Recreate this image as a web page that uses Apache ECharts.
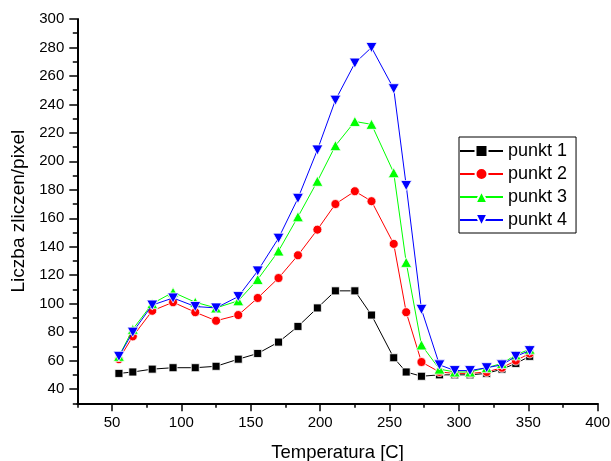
<!DOCTYPE html>
<html>
<head>
<meta charset="utf-8">
<script src="https://cdn.jsdelivr.net/npm/echarts@6/dist/echarts.min.js"></script>
<style>
  html, body { margin: 0; padding: 0; background: #fff; }
  #chart { width: 611px; height: 461px; }
</style>
</head>
<body>
<div id="chart"></div>
<script>
// Measurement temperatures [C]
const temperatures = [55, 65, 79, 94, 110, 125, 141, 155, 170, 184, 198, 211, 225, 237, 253, 262, 273, 286, 297, 308, 320, 331, 341, 351];

// Counts per pixel at each measuring point
const punkt1 = [51, 52, 54, 55, 55, 56, 61, 65, 73, 84, 97, 109, 109, 92, 62, 52, 49, 50, 50, 50, 51, 54, 58, 63];
const punkt2 = [61, 77, 95, 101, 94, 88, 92, 104, 118, 134, 152, 170, 179, 172, 142, 94, 59, 52, 51, 51, 52, 55, 60, 65];
const punkt3 = [63, 82, 100, 108, 101, 97, 102, 117, 137, 161, 186, 211, 228, 226, 192, 129, 71, 54, 52, 52, 55, 58, 64, 68];
const punkt4 = [63, 80, 99, 104, 98, 97, 105, 123, 146, 174, 208, 243, 269, 280, 251, 183, 96, 57, 53, 53, 55, 57, 63, 67];

const seriesNames = ['punkt 1', 'punkt 2', 'punkt 3', 'punkt 4'];

// Labelled (major) tick positions
const xMajorTicks = [50, 100, 150, 200, 250, 300, 350, 400];
const yMajorTicks = [40, 60, 80, 100, 120, 140, 160, 180, 200, 220, 240, 260, 280, 300];

const FONT = 'Liberation Sans, Arial, sans-serif';
const tickLine = { color: '#000', width: 1.5 };

function pairs(values) {
  return temperatures.map((t, i) => [t, values[i]]);
}

const styles = [
  { color: '#000000', symbol: 'rect', size: 8 },
  { color: '#ff0000', symbol: 'circle', size: 9 },
  { color: '#00ff00', symbol: 'triangle', size: [11, 10] },
  { color: '#0000ff', symbol: 'path://M0,0L10,0L5,9Z', size: [11, 10] }
];

const allValues = [punkt1, punkt2, punkt3, punkt4];

const chart = echarts.init(document.getElementById('chart'), null, { renderer: 'canvas' });

chart.setOption({
  animation: false,
  backgroundColor: '#fff',
  grid: { left: 77.3, right: 13.3, top: 19, bottom: 57.7, containLabel: false, outerBoundsMode: 'none' },
  legend: {
    orient: 'vertical',
    left: 459,
    top: 137,
    width: 118,
    padding: [4, 9, 3, 0],
    itemGap: 3,
    itemWidth: 43,
    itemHeight: 15,
    borderColor: '#000',
    borderWidth: 1,
    backgroundColor: '#fff',
    textStyle: { fontFamily: FONT, fontSize: 18, lineHeight: 20, color: '#000' },
    data: seriesNames
  },
  xAxis: [
    {
      type: 'value',
      min: 25,
      max: 400,
      interval: 25,
      name: 'Temperatura [C]',
      nameLocation: 'middle',
      nameGap: 40,
      nameTextStyle: { fontFamily: FONT, fontSize: 18.5, color: '#000' },
      axisLine: { lineStyle: { color: '#000', width: 2 } },
      axisTick: { length: 4.5, lineStyle: tickLine },
      axisLabel: {
        formatter: v => (xMajorTicks.includes(v) ? String(v) : ''),
        margin: 12,
        color: '#000',
        fontFamily: FONT,
        fontSize: 15
      },
      splitLine: { show: false }
    },
    {
      type: 'value',
      position: 'bottom',
      min: 25,
      max: 400,
      axisLine: { show: false },
      axisTick: { customValues: xMajorTicks, length: 8, lineStyle: tickLine },
      axisLabel: { show: false },
      splitLine: { show: false }
    }
  ],
  yAxis: [
    {
      type: 'value',
      min: 30,
      max: 300,
      interval: 10,
      name: 'Liczba zliczen/pixel',
      nameLocation: 'middle',
      nameGap: 47,
      nameTextStyle: { fontFamily: FONT, fontSize: 19, color: '#000' },
      axisLine: { show: true, lineStyle: { color: '#000', width: 2 } },
      axisTick: { show: true, length: 4.5, lineStyle: tickLine },
      axisLabel: {
        formatter: v => (yMajorTicks.includes(v) ? String(v) : ''),
        margin: 13,
        color: '#000',
        fontFamily: FONT,
        fontSize: 15
      },
      splitLine: { show: false }
    },
    {
      type: 'value',
      position: 'left',
      min: 30,
      max: 300,
      axisLine: { show: false },
      axisTick: { show: true, customValues: yMajorTicks, length: 8, lineStyle: tickLine },
      axisLabel: { show: false },
      splitLine: { show: false }
    }
  ],
  series: allValues.map((vals, i) => ({
    name: seriesNames[i],
    type: 'line',
    xAxisIndex: 0,
    yAxisIndex: 0,
    data: pairs(vals),
    symbol: styles[i].symbol,
    symbolSize: styles[i].size,
    showAllSymbol: true,
    lineStyle: { color: styles[i].color, width: 1 },
    itemStyle: { color: styles[i].color, borderColor: '#fff', borderWidth: 0.8 },
    emphasis: { disabled: true },
    z: 2 + i
  }))
});
</script>
</body>
</html>
